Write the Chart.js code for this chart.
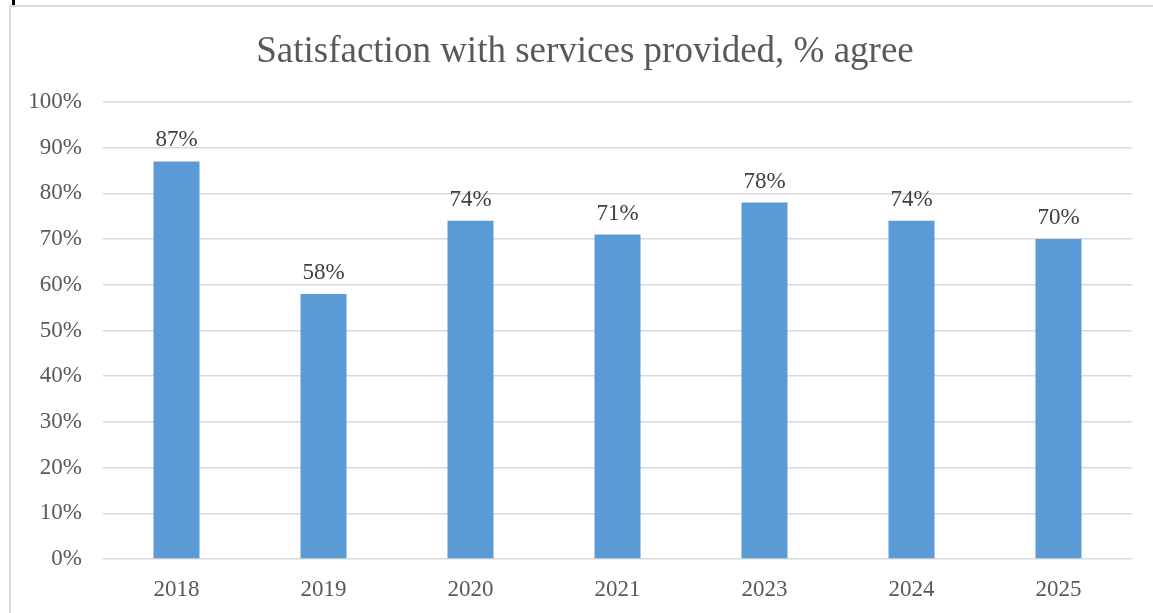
<!DOCTYPE html>
<html>
<head>
<meta charset="utf-8">
<script src="https://cdn.jsdelivr.net/npm/chart.js@4/dist/chart.umd.min.js"></script>
<style>
  html, body { margin: 0; padding: 0; background: #fff; }
  #wrap { position: relative; width: 1153px; height: 613px; }
  #frame { position: absolute; left: 9px; top: 5px; right: -5px; bottom: -5px;
           border-top: 2px solid #d9d9d9; border-left: 2px solid #d9d9d9; }
  #mark { position: absolute; left: 12px; top: 0; width: 3px; height: 5px; background: #000; }
  canvas { position: absolute; left: 0; top: 0; }
</style>
</head>
<body>
<div id="wrap">
  <div id="frame"></div>
  <div id="mark"></div>
  <canvas id="satChart"></canvas>
</div>
<script>
const chartTitle = 'Satisfaction with services provided, % agree';
const years = ['2018', '2019', '2020', '2021', '2023', '2024', '2025'];
const agree = [87, 58, 74, 71, 78, 74, 70];
const yTicks = [0, 10, 20, 30, 40, 50, 60, 70, 80, 90, 100];

const serif = "'Liberation Serif', 'Times New Roman', serif";

// title centred on the outer frame, not on the canvas
const frameTitle = {
    id: 'frameTitle',
    afterDraw(chart) {
        const { ctx } = chart;
        ctx.save();
        ctx.font = `37px ${serif}`;
        ctx.fillStyle = '#595959';
        ctx.textAlign = 'center';
        ctx.textBaseline = 'alphabetic';
        ctx.fillText(chartTitle, 585, 62);
        ctx.restore();
    }
};

// labels above bars, like Excel data labels
const barLabels = {
    id: 'barLabels',
    afterDatasetsDraw(chart) {
        const { ctx } = chart;
        const meta = chart.getDatasetMeta(0);
        ctx.save();
        ctx.font = `23px ${serif}`;
        ctx.fillStyle = '#404040';
        ctx.textAlign = 'center';
        ctx.textBaseline = 'alphabetic';
        meta.data.forEach((bar, i) => {
            ctx.fillText(agree[i] + '%', bar.x, bar.y - 15);
        });
        ctx.restore();
    }
};

new Chart(document.getElementById('satChart'), {
    type: 'bar',
    data: {
        labels: years,
        datasets: [{
            label: 'Agree',
            data: agree,
            backgroundColor: '#5B9BD5',
            categoryPercentage: 1,
            barPercentage: 0.313
        }]
    },
    options: {
        responsive: true,
        maintainAspectRatio: false,
        animation: false,
        layout: { padding: { left: 18, right: 21, top: 102, bottom: 12 } },
        plugins: {
            legend: { display: false },
            tooltip: { enabled: false },
            title: { display: false }
        },
        scales: {
            y: {
                min: 0,
                max: 100,
                afterFit(scale) { scale.width = 85; },
                afterBuildTicks(scale) { scale.ticks = yTicks.map(v => ({ value: v })); },
                grid: { color: '#d9d9d9', lineWidth: 1.5, drawTicks: false },
                border: { display: false },
                ticks: {
                    padding: 21,
                    color: '#595959',
                    font: { family: serif, size: 23 },
                    callback: v => v + '%'
                }
            },
            x: {
                afterFit(scale) { scale.height = 42; },
                grid: { display: false },
                border: { display: false },
                ticks: {
                    padding: 9,
                    color: '#595959',
                    font: { family: serif, size: 23 }
                }
            }
        }
    },
    plugins: [barLabels, frameTitle]
});
</script>
</body>
</html>
